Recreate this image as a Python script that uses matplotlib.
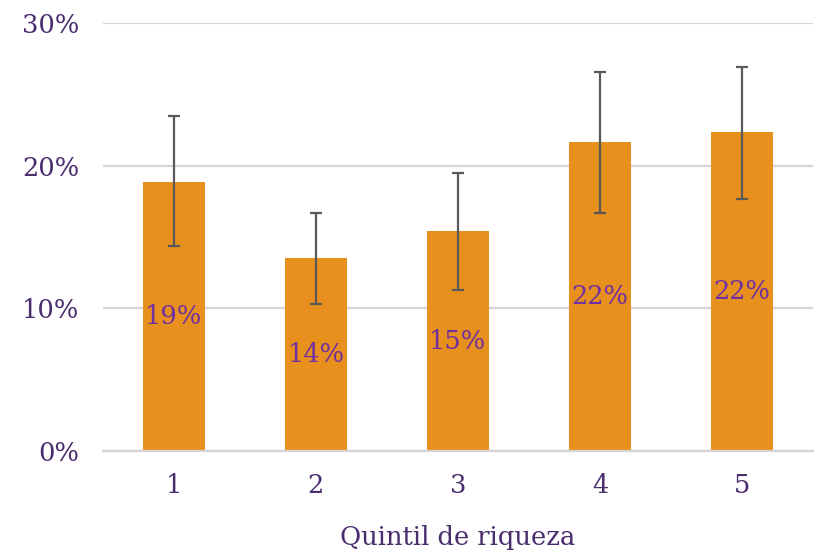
import matplotlib.pyplot as plt
import numpy as np

# Quintil de riqueza
quintiles = ['1', '2', '3', '4', '5']
values = [18.9, 13.5, 15.4, 21.7, 22.4]
err_low = [14.4, 10.3, 11.3, 16.7, 17.7]
err_high = [23.5, 16.7, 19.5, 26.6, 26.9]
bar_labels = ['19%', '14%', '15%', '22%', '22%']

BAR_COLOR = '#E8901E'
TICK_COLOR = '#4B2C6F'
LABEL_COLOR = '#7030A0'

plt.rcParams['font.family'] = ['DejaVu Serif']

fig, ax = plt.subplots(figsize=(8.17, 5.54), dpi=100)
fig.subplots_adjust(left=0.126, right=0.995, top=0.958, bottom=0.186)

x = np.arange(len(quintiles))
yerr = [np.array(values) - np.array(err_low), np.array(err_high) - np.array(values)]

bars = ax.bar(x, values, width=0.44, color=BAR_COLOR, zorder=2)
ax.errorbar(x, values, yerr=yerr, fmt='none', ecolor='#595959', elinewidth=1.6,
            capsize=4.5, capthick=1.6, zorder=3)

# etiquetas en el centro de cada barra
for rect, lab in zip(bars, bar_labels):
	ax.text(rect.get_x() + rect.get_width() / 2, rect.get_height() / 2, lab,
	        ha='center', va='center', fontsize=18.5, color=LABEL_COLOR, zorder=4)

ax.set_ylim(0, 30)
ax.set_xlim(-0.5, len(quintiles) - 0.5)
ax.set_yticks([0, 10, 20, 30])
ax.set_yticklabels(['0%', '10%', '20%', '30%'])
ax.set_xticks(x)
ax.set_xticklabels(quintiles)
ax.yaxis.grid(True, color='#D4D4D4', linewidth=1.6, zorder=0)
ax.set_axisbelow(True)
for side in ['top', 'right', 'left']:
	ax.spines[side].set_visible(False)
ax.spines['bottom'].set_color('#D4D4D4')
ax.spines['bottom'].set_linewidth(1.6)
ax.tick_params(axis='both', length=0, labelsize=18.5, colors=TICK_COLOR)
ax.tick_params(axis='x', pad=16)
ax.tick_params(axis='y', pad=17)

ax.set_xlabel('Quintil de riqueza', fontsize=18.5, color=TICK_COLOR, labelpad=19)

plt.savefig('out.png', dpi=100)
